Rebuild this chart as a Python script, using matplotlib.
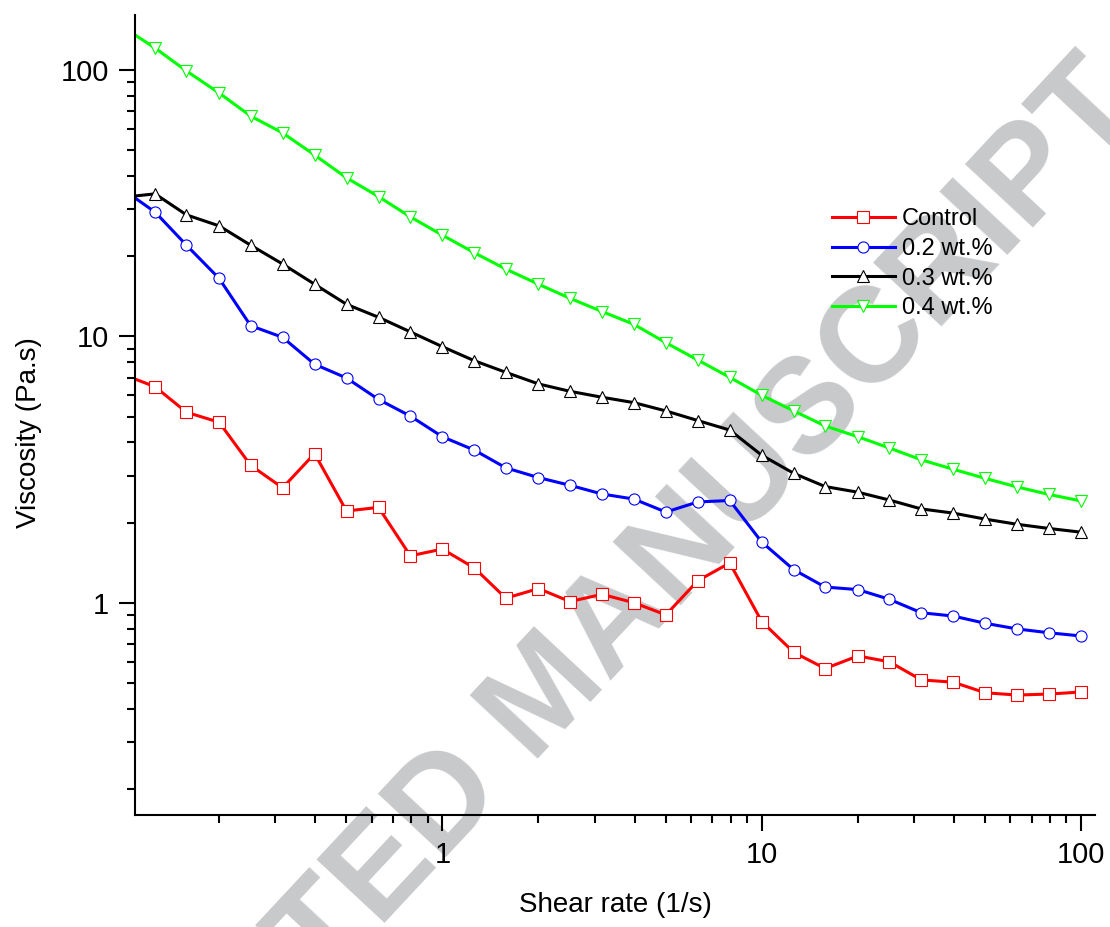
import matplotlib
matplotlib.use('Agg')
from matplotlib import pyplot as plt
from matplotlib.ticker import LogLocator, FuncFormatter, NullFormatter

plt.rcParams['font.family'] = ['Liberation Sans', 'DejaVu Sans']

shear_rate = [0.1, 0.126, 0.158, 0.2, 0.251, 0.316, 0.398, 0.501, 0.631, 0.794,
              1.0, 1.26, 1.58, 2.0, 2.51, 3.16, 3.98, 5.01, 6.31, 7.94,
              10.0, 12.6, 15.8, 20.0, 25.1, 31.6, 39.8, 50.1, 63.1, 79.4, 100.0]

control = [7.2, 6.47, 5.19, 4.76, 3.28, 2.70, 3.63, 2.21, 2.28, 1.50,
           1.59, 1.35, 1.04, 1.13, 1.01, 1.075, 1.00, 0.90, 1.21, 1.41,
           0.85, 0.651, 0.566, 0.631, 0.600, 0.513, 0.503, 0.459, 0.450, 0.454, 0.462]

wt02 = [35.6, 29.3, 22.0, 16.5, 10.97, 9.92, 7.86, 6.98, 5.80, 5.02,
        4.20, 3.74, 3.21, 2.95, 2.76, 2.56, 2.45, 2.19, 2.39, 2.42,
        1.69, 1.33, 1.145, 1.12, 1.03, 0.917, 0.891, 0.837, 0.797, 0.771, 0.750]

wt03 = [33.3, 34.3, 28.6, 26.0, 22.0, 18.7, 15.7, 13.2, 11.8, 10.4,
        9.15, 8.10, 7.33, 6.63, 6.22, 5.91, 5.64, 5.25, 4.83, 4.45,
        3.58, 3.06, 2.73, 2.60, 2.43, 2.25, 2.17, 2.06, 1.97, 1.90, 1.84]

wt04 = [145, 121, 99.2, 82.0, 67.2, 58.1, 48.0, 39.4, 33.5, 28.1,
        24.0, 20.6, 17.9, 15.7, 13.9, 12.4, 11.1, 9.47, 8.15, 7.02,
        6.01, 5.25, 4.61, 4.20, 3.81, 3.44, 3.17, 2.93, 2.72, 2.55, 2.41]

series = [('Control', control, '#ff0000', 's'),
          ('0.2 wt.%', wt02, '#0000ff', 'o'),
          ('0.3 wt.%', wt03, '#000000', '^'),
          ('0.4 wt.%', wt04, '#00ff00', 'v')]

fig = plt.figure(figsize=(11.1, 9.27), dpi=100)
ax = fig.add_axes([0.1216, 0.1208, 0.8649, 0.863])

# watermark behind everything
fig.text(0.493, 0.248, 'ACCEPTED MANUSCRIPT', rotation=47, rotation_mode='anchor',
         ha='center', va='center', fontsize=97, fontweight='bold',
         color='#c8c9cb', zorder=0)
ax.set_zorder(1)
ax.patch.set_alpha(0)

for label, vals, col, mk in series:
    ax.plot(shear_rate, vals, color=col, lw=2.2, marker=mk, markersize=8,
            markerfacecolor='white', markeredgecolor=col, markeredgewidth=0.8,
            label=label)

ax.set_xscale('log')
ax.set_yscale('log')
ax.set_xlim(0.109, 110.6)
ax.set_ylim(0.1595, 161)

fmt = FuncFormatter(lambda v, p: '%g' % v)
for axis in (ax.xaxis, ax.yaxis):
    axis.set_major_locator(LogLocator(base=10))
    axis.set_minor_locator(LogLocator(base=10, subs=range(2, 10)))
    axis.set_major_formatter(fmt)
    axis.set_minor_formatter(NullFormatter())

ax.spines['top'].set_visible(False)
ax.spines['right'].set_visible(False)
ax.spines['left'].set_linewidth(1.5)
ax.spines['bottom'].set_linewidth(1.5)
ax.tick_params(which='major', length=11.5, width=1.5, labelsize=21, pad=7)
ax.tick_params(which='minor', length=5.8, width=1.5)

ax.set_xlabel('Shear rate (1/s)', fontsize=20)
ax.set_ylabel('Viscosity (Pa.s)', fontsize=20)
ax.xaxis.set_label_coords(0.5, -0.096)
ax.yaxis.set_label_coords(-0.097, 0.4775)

leg = ax.legend(loc='upper left', bbox_to_anchor=(0.7495, 0.7756),
                bbox_transform=fig.transFigure, frameon=False, fontsize=17,
                handlelength=2.67, handletextpad=0.3, labelspacing=0.33,
                borderpad=0, borderaxespad=0)

fig.savefig('out.png', dpi=100)
